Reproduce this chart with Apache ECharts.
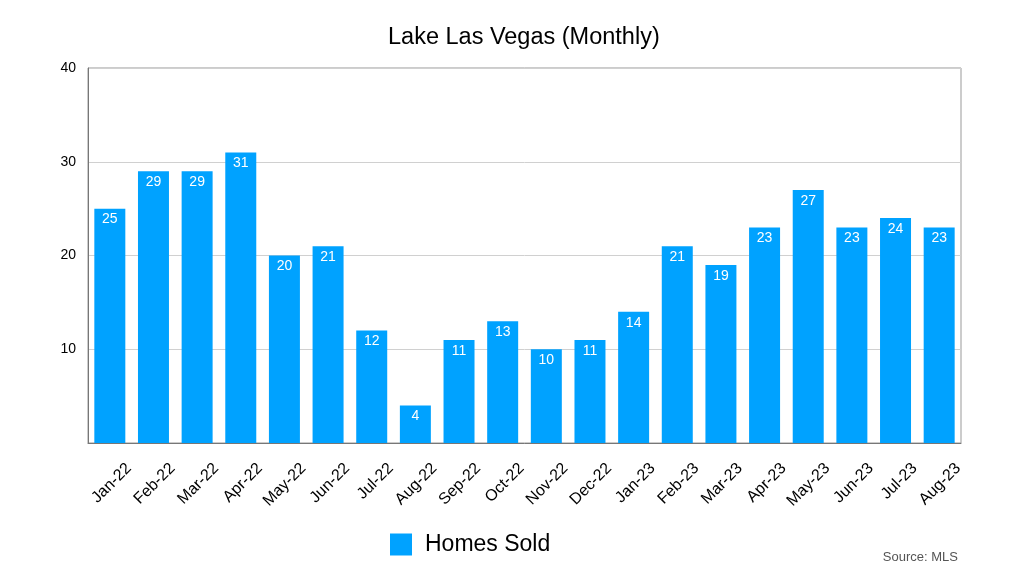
<!DOCTYPE html>
<html><head><meta charset="utf-8">
<script src="https://cdn.jsdelivr.net/npm/echarts@6/dist/echarts.min.js"></script>
<style>html,body{margin:0;padding:0;background:#fff}#c{width:1024px;height:576px}</style>
</head><body><div id="c"></div>
<script>
const categories = ["Jan-22","Feb-22","Mar-22","Apr-22","May-22","Jun-22","Jul-22","Aug-22","Sep-22","Oct-22","Nov-22","Dec-22","Jan-23","Feb-23","Mar-23","Apr-23","May-23","Jun-23","Jul-23","Aug-23"];
const homesSold = [25,29,29,31,20,21,12,4,11,13,10,11,14,21,19,23,27,23,24,23];
const yTicks = [10,20,30,40];
const chart = echarts.init(document.getElementById('c'));
const F = '"Helvetica Neue", Helvetica, "Liberation Sans", Arial, sans-serif';
chart.setOption({
  animation:false,
  title:{text:'Lake Las Vegas (Monthly)',left:383,top:21,textStyle:{fontFamily:F,fontSize:23.5,fontWeight:'normal',color:'#000'}},
  legend:{data:['Homes Sold'],left:385,top:528,itemWidth:22,itemHeight:22,textStyle:{fontFamily:F,fontSize:23,color:'#000',padding:[0,0,0,8]},icon:'rect'},
  graphic:[{type:'text',right:66,top:551,style:{text:'Source: MLS',fontFamily:F,fontSize:13,fill:'#555'}}],
  grid:{left:88,right:63,top:68,bottom:133,show:true,borderColor:'#999',borderWidth:1},
  xAxis:{type:'category',data:categories,
    axisLine:{lineStyle:{color:'#777'}},axisTick:{show:false},
    axisLabel:{rotate:45,interval:0,fontFamily:F,fontSize:16,color:'#000',margin:42,padding:[0,-27,0,0]}},
  yAxis:{type:'value',min:0,max:40,interval:10,
    axisLine:{show:true,lineStyle:{color:'#777'}},axisTick:{show:false},
    splitLine:{lineStyle:{color:'#d0d0d0'}},
    axisLabel:{fontFamily:F,fontSize:14,color:'#000',margin:12,formatter:v=>yTicks.includes(v)?String(v):''}},
  series:[{name:'Homes Sold',type:'bar',data:homesSold,barCategoryGap:'29%',
    itemStyle:{color:'#00A2FF'},
    label:{show:true,position:'insideTop',distance:4,color:'#fff',fontFamily:F,fontSize:14}}]
});
</script></body></html>
